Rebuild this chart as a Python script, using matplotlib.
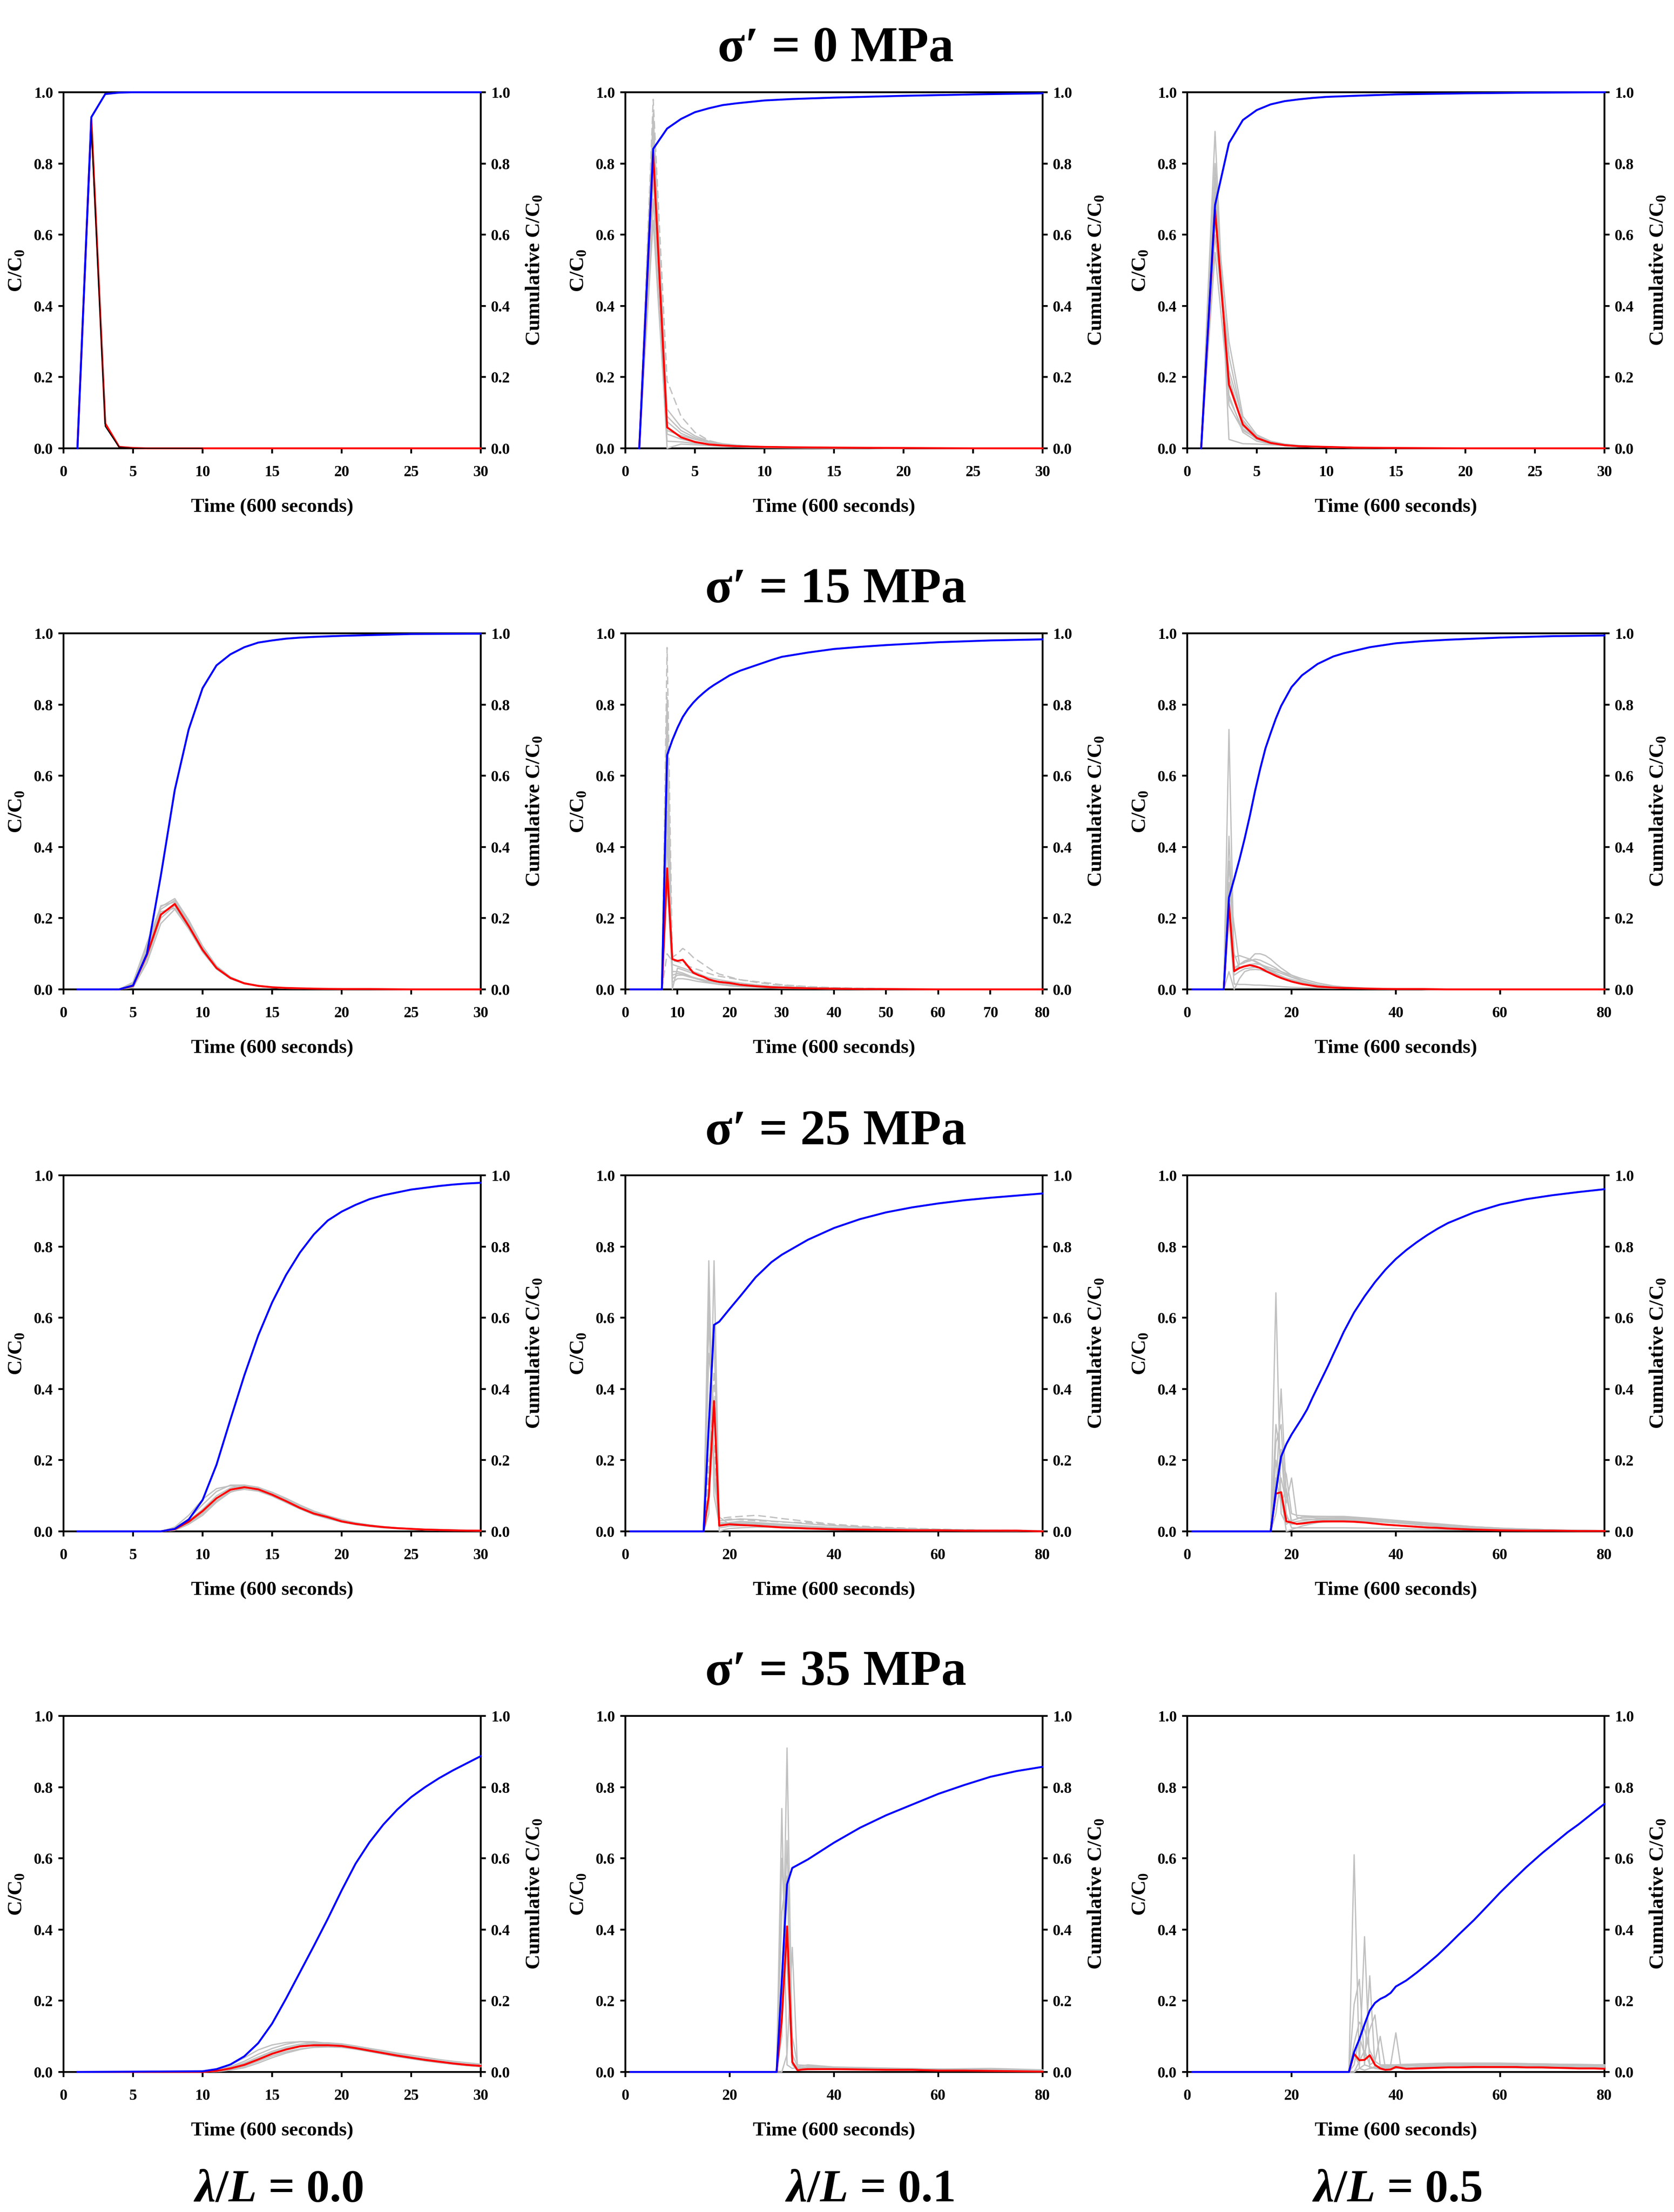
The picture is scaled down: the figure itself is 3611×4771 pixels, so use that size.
import matplotlib
matplotlib.use("Agg")
import matplotlib.pyplot as plt

plt.rcParams['font.family'] = ['Liberation Serif', 'DejaVu Serif']
plt.rcParams['font.weight'] = 'bold'
plt.rcParams['mathtext.fontset'] = 'custom'
plt.rcParams['mathtext.rm'] = 'Liberation Serif:bold'
plt.rcParams['mathtext.bf'] = 'Liberation Serif:bold'
plt.rcParams['mathtext.it'] = 'Liberation Serif:bold:italic'

# ---------------- text ----------------
row_titles = ["σ′ = 0 MPa", "σ′ = 15 MPa", "σ′ = 25 MPa", "σ′ = 35 MPa"]
col_labels = ["0.0", "0.1", "0.5"]
ytick_vals = [0.0, 0.2, 0.4, 0.6, 0.8, 1.0]
ytick_labels = ["0.0", "0.2", "0.4", "0.6", "0.8", "1.0"]
xlabel_text = "Time (600 seconds)"
ylabel_left = "C/C$_0$"
ylabel_right = "Cumulative C/C$_0$"

# ---------------- row 1 (sigma' = 0 MPa) ----------------
t_row1 = [1, 2, 3, 4, 5, 6, 7, 8, 9, 10, 12, 15, 20, 25, 30]

cum_11 = [0, 0.93, 0.995, 0.999, 1.0, 1.0, 1.0, 1.0, 1.0, 1.0, 1.0, 1.0, 1.0, 1.0, 1.0]
mean_11 = [0, 0.925, 0.07, 0.004, 0.001, 0, 0, 0, 0, 0, 0, 0, 0, 0, 0]
tg_11 = [1, 2, 3, 4, 5, 6, 8, 10]
black_11 = [0, 0.9, 0.062, 0.003, 0, 0, 0, 0]

cum_12 = [0, 0.841, 0.898, 0.925, 0.944, 0.955, 0.964, 0.969, 0.973, 0.977, 0.981, 0.985, 0.99, 0.994, 0.997]
mean_12 = [0, 0.83, 0.059, 0.031, 0.018, 0.011, 0.008, 0.006, 0.005, 0.004, 0.003, 0.002, 0.001, 0.0, 0.0]
tg_12 = [1, 2, 3, 4, 5, 6, 7, 8, 9, 10, 12, 15, 20]
real_12 = [
    [0, 0.98, 0.19, 0.09, 0.045, 0.022, 0.012, 0.007, 0.004, 0.003, 0.002, 0.001, 0],
    [0, 0.9, 0.05, 0.036, 0.025, 0.016, 0.011, 0.008, 0.006, 0.004, 0.003, 0.001, 0],
    [0, 0.8, 0.04, 0.026, 0.017, 0.011, 0.008, 0.006, 0.004, 0.003, 0.002, 0.001, 0],
    [0, 0.7, 0.0, 0.012, 0.01, 0.008, 0.006, 0.004, 0.003, 0.002, 0.001, 0, 0],
    [0, 0.86, 0.075, 0.042, 0.026, 0.016, 0.01, 0.007, 0.005, 0.004, 0.002, 0.001, 0],
    [0, 0.76, 0.09, 0.05, 0.03, 0.018, 0.012, 0.008, 0.006, 0.004, 0.003, 0.001, 0],
    [0, 0.64, 0.02, 0.018, 0.014, 0.01, 0.007, 0.005, 0.004, 0.003, 0.002, 0.001, 0],
    [0, 0.94, 0.11, 0.06, 0.035, 0.02, 0.013, 0.009, 0.006, 0.004, 0.003, 0.001, 0],
]
dashed_12 = [0]

cum_13 = [0, 0.683, 0.857, 0.922, 0.950, 0.966, 0.975, 0.98, 0.984, 0.987, 0.99, 0.994, 0.997, 0.999, 1.0]
mean_13 = [0, 0.67, 0.179, 0.067, 0.029, 0.015, 0.009, 0.006, 0.005, 0.004, 0.002, 0.001, 0.0, 0.0, 0.0]
tg_13 = [1, 2, 3, 4, 5, 6, 7, 8, 10, 12, 15]
real_13 = [
    [0, 0.89, 0.025, 0.013, 0.012, 0.01, 0.008, 0.006, 0.003, 0.002, 0.001],
    [0, 0.76, 0.12, 0.05, 0.028, 0.016, 0.01, 0.007, 0.004, 0.002, 0.001],
    [0, 0.7, 0.3, 0.09, 0.038, 0.02, 0.012, 0.008, 0.004, 0.002, 0.001],
    [0, 0.6, 0.22, 0.08, 0.032, 0.017, 0.01, 0.007, 0.004, 0.002, 0.001],
    [0, 0.55, 0.15, 0.045, 0.02, 0.012, 0.008, 0.005, 0.003, 0.002, 0.001],
    [0, 0.64, 0.26, 0.075, 0.035, 0.018, 0.011, 0.007, 0.004, 0.002, 0.001],
    [0, 0.72, 0.2, 0.062, 0.027, 0.014, 0.009, 0.006, 0.003, 0.002, 0.001],
    [0, 0.8, 0.14, 0.055, 0.025, 0.013, 0.008, 0.005, 0.003, 0.001, 0.0],
]

# ---------------- row 2 (sigma' = 15 MPa) ----------------
t_21 = [1, 2, 3, 4, 5, 6, 7, 8, 9, 10, 11, 12, 13, 14, 15, 16, 17, 18, 20, 22, 25, 30]
cum_21 = [0, 0, 0, 0, 0.011, 0.10, 0.32, 0.56, 0.73, 0.846, 0.91, 0.941, 0.961, 0.974, 0.98,
          0.985, 0.988, 0.99, 0.993, 0.995, 0.998, 0.999]
mean_21 = [0, 0, 0, 0, 0.01, 0.097, 0.21, 0.24, 0.178, 0.111, 0.06, 0.032, 0.017, 0.01, 0.006,
           0.004, 0.003, 0.002, 0.001, 0.001, 0.0, 0.0]
tg_21 = [4, 5, 6, 7, 8, 9, 10, 11, 12, 13, 14, 15, 16, 18, 20]
real_21 = [
    [0, 0.02, 0.13, 0.232, 0.255, 0.195, 0.122, 0.066, 0.035, 0.018, 0.01, 0.006, 0.004, 0.002, 0.001],
    [0, 0.005, 0.075, 0.185, 0.225, 0.17, 0.105, 0.057, 0.03, 0.016, 0.009, 0.005, 0.003, 0.002, 0.001],
    [0, 0.015, 0.11, 0.225, 0.25, 0.19, 0.116, 0.062, 0.034, 0.018, 0.01, 0.006, 0.004, 0.002, 0.001],
    [0, 0.008, 0.085, 0.2, 0.235, 0.18, 0.108, 0.058, 0.031, 0.016, 0.009, 0.005, 0.003, 0.002, 0.001],
    [0, 0.012, 0.1, 0.218, 0.228, 0.175, 0.112, 0.061, 0.033, 0.017, 0.01, 0.006, 0.004, 0.002, 0.001],
    [0, 0.018, 0.12, 0.235, 0.245, 0.185, 0.118, 0.064, 0.034, 0.018, 0.01, 0.006, 0.004, 0.002, 0.001],
]

t_22 = [1, 7, 8, 9, 10, 11, 12, 13, 14, 15, 16, 17, 18, 20, 22, 25, 28, 30, 35, 40, 45, 50, 60, 70, 80]
cum_22 = [0, 0, 0.658, 0.70, 0.735, 0.765, 0.787, 0.805, 0.82, 0.833, 0.845, 0.855, 0.864, 0.882,
          0.895, 0.91, 0.925, 0.934, 0.946, 0.956, 0.962, 0.967, 0.975, 0.98, 0.983]
mean_22 = [0, 0, 0.34, 0.085, 0.08, 0.083, 0.065, 0.047, 0.04, 0.035, 0.028, 0.024, 0.021, 0.018,
           0.013, 0.009, 0.006, 0.005, 0.003, 0.002, 0.001, 0.001, 0.0, 0.0, 0.0]
tg_22 = [7, 8, 9, 10, 11, 12, 13, 14, 15, 16, 17, 18, 20, 22, 25, 28, 30, 35, 40, 50]
real_22 = [
    [0, 0.96, 0.09, 0.1, 0.115, 0.105, 0.09, 0.08, 0.07, 0.06, 0.05, 0.043, 0.035, 0.027, 0.02, 0.014, 0.012, 0.007, 0.004, 0.002],
    [0, 0.75, 0.0, 0.06, 0.055, 0.05, 0.045, 0.04, 0.035, 0.03, 0.025, 0.022, 0.017, 0.013, 0.01, 0.007, 0.006, 0.004, 0.002, 0.001],
    [0, 0.6, 0.05, 0.05, 0.046, 0.04, 0.033, 0.028, 0.024, 0.02, 0.017, 0.015, 0.012, 0.01, 0.008, 0.006, 0.005, 0.003, 0.002, 0.001],
    [0, 0.5, 0.03, 0.04, 0.04, 0.036, 0.032, 0.028, 0.024, 0.02, 0.017, 0.014, 0.01, 0.008, 0.006, 0.004, 0.003, 0.002, 0.001, 0.0],
    [0, 0.42, 0.07, 0.065, 0.06, 0.055, 0.05, 0.045, 0.038, 0.033, 0.03, 0.027, 0.022, 0.018, 0.013, 0.009, 0.008, 0.005, 0.003, 0.001],
    [0, 0.1, 0.08, 0.078, 0.072, 0.066, 0.06, 0.055, 0.05, 0.045, 0.04, 0.037, 0.032, 0.027, 0.022, 0.017, 0.013, 0.008, 0.005, 0.002],
    [0, 0.82, 0.02, 0.03, 0.03, 0.028, 0.025, 0.022, 0.02, 0.018, 0.016, 0.014, 0.011, 0.009, 0.007, 0.005, 0.004, 0.003, 0.002, 0.001],
    [0, 0.3, 0.04, 0.045, 0.042, 0.038, 0.034, 0.03, 0.027, 0.024, 0.021, 0.019, 0.015, 0.012, 0.009, 0.007, 0.006, 0.004, 0.002, 0.001],
]
dashed_22 = [0, 5]

t_23 = [1, 7, 8, 9, 10, 11, 12, 13, 14, 15, 16, 17, 18, 20, 22, 25, 28, 30, 35, 40, 45, 50, 60, 70, 80]
cum_23 = [0, 0, 0.258, 0.31, 0.364, 0.423, 0.487, 0.557, 0.62, 0.677, 0.72, 0.761, 0.796, 0.849,
          0.882, 0.914, 0.935, 0.944, 0.961, 0.972, 0.978, 0.982, 0.988, 0.992, 0.994]
mean_23 = [0, 0, 0.24, 0.051, 0.06, 0.065, 0.068, 0.065, 0.06, 0.052, 0.045, 0.038, 0.032, 0.022,
           0.015, 0.008, 0.005, 0.004, 0.002, 0.001, 0.001, 0.0, 0.0, 0.0, 0.0]
tg_23 = [7, 8, 9, 10, 11, 12, 13, 14, 15, 16, 17, 18, 20, 22, 25, 28, 30, 35, 40, 50]
real_23 = [
    [0, 0.73, 0.05, 0.07, 0.08, 0.085, 0.08, 0.072, 0.063, 0.054, 0.045, 0.038, 0.025, 0.017, 0.01, 0.006, 0.004, 0.002, 0.001, 0],
    [0, 0.43, 0.09, 0.095, 0.09, 0.085, 0.078, 0.07, 0.06, 0.05, 0.042, 0.035, 0.022, 0.015, 0.009, 0.005, 0.004, 0.002, 0.001, 0],
    [0, 0.3, 0.18, 0.07, 0.075, 0.085, 0.1, 0.1, 0.095, 0.085, 0.072, 0.06, 0.04, 0.025, 0.013, 0.007, 0.005, 0.002, 0.001, 0],
    [0, 0.2, 0.015, 0.014, 0.014, 0.013, 0.012, 0.012, 0.011, 0.01, 0.009, 0.008, 0.006, 0.005, 0.004, 0.003, 0.003, 0.002, 0.001, 0],
    [0, 0.28, 0.04, 0.05, 0.058, 0.06, 0.062, 0.06, 0.057, 0.055, 0.05, 0.045, 0.034, 0.024, 0.013, 0.007, 0.005, 0.002, 0.001, 0],
    [0, 0.05, 0.0, 0.03, 0.05, 0.055, 0.056, 0.055, 0.05, 0.045, 0.04, 0.035, 0.028, 0.02, 0.012, 0.007, 0.005, 0.002, 0.001, 0],
    [0, 0.22, 0.06, 0.07, 0.076, 0.08, 0.085, 0.082, 0.075, 0.068, 0.06, 0.05, 0.035, 0.024, 0.012, 0.006, 0.004, 0.002, 0.001, 0],
    [0, 0.36, 0.1, 0.06, 0.065, 0.07, 0.072, 0.07, 0.065, 0.06, 0.055, 0.05, 0.04, 0.03, 0.018, 0.01, 0.007, 0.003, 0.001, 0],
]

# ---------------- row 3 (sigma' = 25 MPa) ----------------
t_31 = [1, 7, 8, 9, 10, 11, 12, 13, 14, 15, 16, 17, 18, 19, 20, 21, 22, 23, 24, 25, 26, 27, 28, 29, 30]
cum_31 = [0, 0, 0.007, 0.033, 0.088, 0.187, 0.314, 0.438, 0.55, 0.643, 0.72, 0.783, 0.834, 0.873,
          0.898, 0.917, 0.933, 0.944, 0.952, 0.96, 0.965, 0.97, 0.974, 0.977, 0.979]
mean_31 = [0, 0, 0.006, 0.027, 0.057, 0.093, 0.117, 0.124, 0.118, 0.103, 0.085, 0.066, 0.05, 0.04,
           0.028, 0.021, 0.016, 0.012, 0.009, 0.007, 0.005, 0.004, 0.003, 0.002, 0.002]
tg_31 = [7, 8, 9, 10, 11, 12, 13, 14, 15, 16, 17, 18, 19, 20, 21, 22, 23, 24, 25, 26, 27, 28, 29, 30]
real_31 = [
    [0, 0.01, 0.035, 0.075, 0.112, 0.13, 0.13, 0.12, 0.103, 0.084, 0.065, 0.05, 0.038, 0.028, 0.02, 0.015, 0.011, 0.008, 0.006, 0.005, 0.004, 0.003, 0.002, 0.002],
    [0, 0.003, 0.02, 0.045, 0.082, 0.11, 0.122, 0.12, 0.108, 0.09, 0.072, 0.055, 0.043, 0.032, 0.024, 0.018, 0.013, 0.01, 0.008, 0.006, 0.005, 0.004, 0.003, 0.002],
    [0, 0.008, 0.03, 0.062, 0.1, 0.122, 0.13, 0.124, 0.108, 0.09, 0.07, 0.054, 0.042, 0.03, 0.022, 0.017, 0.012, 0.009, 0.007, 0.005, 0.004, 0.003, 0.002, 0.002],
    [0, 0.004, 0.022, 0.05, 0.086, 0.112, 0.118, 0.113, 0.099, 0.081, 0.063, 0.047, 0.036, 0.026, 0.019, 0.014, 0.01, 0.008, 0.006, 0.004, 0.003, 0.003, 0.002, 0.001],
    [0, 0.012, 0.045, 0.09, 0.12, 0.128, 0.125, 0.115, 0.1, 0.082, 0.064, 0.049, 0.037, 0.027, 0.02, 0.015, 0.011, 0.008, 0.006, 0.004, 0.003, 0.003, 0.002, 0.001],
    [0, 0.006, 0.025, 0.055, 0.092, 0.118, 0.127, 0.123, 0.11, 0.093, 0.074, 0.057, 0.044, 0.033, 0.024, 0.018, 0.013, 0.01, 0.008, 0.006, 0.005, 0.004, 0.003, 0.002],
]

t_32 = [1, 15, 16, 17, 18, 19, 20, 22, 25, 28, 30, 35, 40, 45, 50, 55, 60, 65, 70, 75, 80]
cum_32 = [0, 0, 0.3, 0.58, 0.589, 0.607, 0.625, 0.66, 0.714, 0.756, 0.777, 0.819, 0.852, 0.877,
          0.896, 0.91, 0.921, 0.93, 0.937, 0.943, 0.949]
mean_32 = [0, 0, 0.1, 0.366, 0.016, 0.018, 0.02, 0.018, 0.016, 0.013, 0.011, 0.008, 0.006, 0.005,
           0.004, 0.003, 0.003, 0.002, 0.002, 0.002, 0.0]
tg_32 = [15, 16, 17, 18, 19, 20, 22, 25, 28, 30, 35, 40, 45, 50, 60, 70, 80]
real_32 = [
    [0, 0.76, 0.1, 0.02, 0.022, 0.025, 0.028, 0.025, 0.022, 0.02, 0.015, 0.011, 0.008, 0.006, 0.003, 0.002, 0.001],
    [0, 0.05, 0.76, 0.03, 0.031, 0.032, 0.035, 0.033, 0.029, 0.027, 0.021, 0.016, 0.012, 0.009, 0.005, 0.003, 0.002],
    [0, 0.6, 0.2, 0.01, 0.012, 0.015, 0.016, 0.017, 0.015, 0.014, 0.011, 0.008, 0.006, 0.005, 0.003, 0.002, 0.001],
    [0, 0.3, 0.55, 0.04, 0.03, 0.02, 0.021, 0.02, 0.018, 0.016, 0.013, 0.01, 0.008, 0.006, 0.004, 0.002, 0.001],
    [0, 0.15, 0.45, 0.035, 0.038, 0.04, 0.042, 0.045, 0.04, 0.036, 0.028, 0.02, 0.015, 0.011, 0.006, 0.003, 0.002],
    [0, 0.5, 0.35, 0.0, 0.005, 0.008, 0.01, 0.012, 0.012, 0.011, 0.009, 0.007, 0.005, 0.004, 0.002, 0.001, 0.001],
    [0, 0.2, 0.25, 0.03, 0.032, 0.035, 0.033, 0.03, 0.028, 0.026, 0.025, 0.018, 0.013, 0.01, 0.006, 0.003, 0.002],
    [0, 0.68, 0.15, 0.025, 0.024, 0.023, 0.024, 0.022, 0.019, 0.017, 0.013, 0.01, 0.007, 0.005, 0.003, 0.002, 0.001],
]
dashed_32 = [4, 6]

t_33 = [1, 16, 17, 18, 19, 20, 21, 22, 23, 24, 25, 26, 27, 28, 29, 30, 32, 34, 36, 38, 40, 42, 44,
        46, 48, 50, 55, 60, 65, 70, 75, 80]
cum_33 = [0, 0, 0.113, 0.21, 0.245, 0.272, 0.295, 0.318, 0.343, 0.375, 0.405, 0.435, 0.465, 0.497,
          0.528, 0.56, 0.615, 0.66, 0.70, 0.735, 0.765, 0.79, 0.812, 0.832, 0.85, 0.866, 0.896,
          0.918, 0.933, 0.944, 0.953, 0.961]
mean_33 = [0, 0, 0.106, 0.11, 0.028, 0.025, 0.021, 0.022, 0.024, 0.026, 0.027, 0.028, 0.028, 0.028,
           0.028, 0.028, 0.027, 0.025, 0.022, 0.019, 0.017, 0.015, 0.013, 0.011, 0.01, 0.008, 0.005,
           0.003, 0.002, 0.002, 0.001, 0.001]
tg_33 = [16, 17, 18, 19, 20, 21, 22, 25, 30, 35, 40, 45, 50, 55, 60, 70, 80]
real_33 = [
    [0, 0.67, 0.05, 0.02, 0.03, 0.035, 0.04, 0.042, 0.04, 0.033, 0.025, 0.018, 0.012, 0.008, 0.005, 0.002, 0.001],
    [0, 0.1, 0.4, 0.1, 0.03, 0.035, 0.04, 0.038, 0.036, 0.03, 0.024, 0.018, 0.013, 0.009, 0.006, 0.003, 0.001],
    [0, 0.3, 0.2, 0.16, 0.05, 0.045, 0.044, 0.042, 0.042, 0.037, 0.031, 0.025, 0.019, 0.013, 0.009, 0.004, 0.002],
    [0, 0.05, 0.15, 0.08, 0.15, 0.04, 0.035, 0.033, 0.034, 0.031, 0.027, 0.022, 0.017, 0.012, 0.008, 0.004, 0.002],
    [0, 0.2, 0.1, 0.0, 0.005, 0.01, 0.015, 0.025, 0.03, 0.028, 0.024, 0.018, 0.013, 0.009, 0.006, 0.003, 0.001],
    [0, 0.12, 0.23, 0.05, 0.01, 0.01, 0.01, 0.01, 0.01, 0.009, 0.008, 0.006, 0.005, 0.004, 0.003, 0.002, 0.001],
    [0, 0.15, 0.08, 0.12, 0.02, 0.022, 0.025, 0.03, 0.032, 0.03, 0.025, 0.02, 0.015, 0.01, 0.007, 0.003, 0.001],
    [0, 0.25, 0.3, 0.04, 0.025, 0.028, 0.03, 0.035, 0.038, 0.035, 0.03, 0.024, 0.018, 0.013, 0.009, 0.004, 0.002],
]

# ---------------- row 4 (sigma' = 35 MPa) ----------------
t_41 = [1, 10, 11, 12, 13, 14, 15, 16, 17, 18, 19, 20, 21, 22, 23, 24, 25, 26, 27, 28, 29, 30]
cum_41 = [0, 0.002, 0.008, 0.021, 0.044, 0.081, 0.136, 0.206, 0.28, 0.354, 0.43, 0.51, 0.585, 0.645,
          0.695, 0.737, 0.772, 0.8, 0.825, 0.847, 0.867, 0.887]
mean_41 = [0, 0, 0.003, 0.01, 0.02, 0.035, 0.051, 0.063, 0.072, 0.075, 0.075, 0.073, 0.067, 0.06,
           0.053, 0.046, 0.04, 0.034, 0.029, 0.024, 0.02, 0.017]
tg_41 = [10, 11, 12, 13, 14, 15, 16, 17, 18, 19, 20, 21, 22, 23, 24, 25, 26, 27, 28, 29, 30]
real_41 = [
    [0, 0.005, 0.015, 0.03, 0.05, 0.066, 0.078, 0.085, 0.085, 0.08, 0.075, 0.068, 0.06, 0.052, 0.045, 0.038, 0.032, 0.027, 0.022, 0.018, 0.015],
    [0, 0.001, 0.005, 0.012, 0.025, 0.04, 0.053, 0.063, 0.07, 0.074, 0.075, 0.072, 0.066, 0.06, 0.053, 0.047, 0.041, 0.035, 0.03, 0.026, 0.022],
    [0, 0.004, 0.012, 0.025, 0.042, 0.058, 0.07, 0.078, 0.082, 0.082, 0.079, 0.073, 0.066, 0.058, 0.05, 0.043, 0.037, 0.031, 0.026, 0.022, 0.019],
    [0, 0.002, 0.007, 0.016, 0.03, 0.045, 0.057, 0.065, 0.069, 0.07, 0.069, 0.064, 0.058, 0.051, 0.045, 0.039, 0.033, 0.028, 0.024, 0.02, 0.016],
    [0, 0.003, 0.01, 0.022, 0.038, 0.054, 0.066, 0.074, 0.078, 0.078, 0.076, 0.07, 0.063, 0.056, 0.049, 0.042, 0.036, 0.03, 0.025, 0.021, 0.018],
    [0, 0.006, 0.02, 0.04, 0.062, 0.076, 0.083, 0.085, 0.082, 0.077, 0.071, 0.064, 0.057, 0.05, 0.043, 0.037, 0.031, 0.026, 0.022, 0.018, 0.015],
]

t_42 = [1, 29, 30, 31, 32, 33, 34, 35, 40, 45, 50, 55, 60, 65, 70, 75, 80]
cum_42 = [0, 0, 0.26, 0.527, 0.573, 0.581, 0.589, 0.597, 0.644, 0.686, 0.721, 0.751, 0.781, 0.806,
          0.829, 0.845, 0.857]
mean_42 = [0, 0, 0.15, 0.409, 0.028, 0.005, 0.007, 0.008, 0.008, 0.007, 0.006, 0.006, 0.004, 0.004,
           0.003, 0.002, 0.001]
tg_42 = [29, 30, 31, 32, 33, 35, 40, 50, 60, 70, 80]
real_42 = [
    [0, 0.74, 0.02, 0.01, 0.012, 0.015, 0.012, 0.01, 0.008, 0.006, 0.005],
    [0, 0.1, 0.91, 0.05, 0.015, 0.02, 0.014, 0.011, 0.008, 0.01, 0.006],
    [0, 0.0, 0.05, 0.35, 0.01, 0.012, 0.01, 0.009, 0.007, 0.005, 0.004],
    [0, 0.6, 0.3, 0.02, 0.005, 0.006, 0.008, 0.007, 0.006, 0.005, 0.003],
    [0, 0.45, 0.55, 0.03, 0.01, 0.012, 0.011, 0.009, 0.007, 0.005, 0.004],
    [0, 0.2, 0.65, 0.1, 0.02, 0.018, 0.013, 0.01, 0.008, 0.006, 0.004],
]

t_43 = [1, 31, 32, 33, 34, 35, 36, 37, 38, 39, 40, 42, 44, 46, 48, 50, 52, 55, 58, 60, 63, 65, 68,
        70, 73, 75, 78, 80]
cum_43 = [0, 0, 0.056, 0.092, 0.134, 0.173, 0.194, 0.205, 0.212, 0.222, 0.24, 0.257, 0.279, 0.303,
          0.328, 0.356, 0.385, 0.427, 0.473, 0.504, 0.547, 0.575, 0.614, 0.638, 0.674, 0.695, 0.73, 0.753]
mean_43 = [0, 0, 0.051, 0.033, 0.034, 0.047, 0.02, 0.01, 0.006, 0.007, 0.014, 0.009, 0.01, 0.011,
           0.012, 0.013, 0.013, 0.014, 0.014, 0.014, 0.014, 0.013, 0.013, 0.012, 0.011, 0.01, 0.01, 0.009]
tg_43 = [31, 32, 33, 34, 35, 36, 37, 38, 39, 40, 41, 45, 50, 60, 70, 80]
real_43 = [
    [0, 0.61, 0.01, 0.005, 0.01, 0.012, 0.013, 0.014, 0.014, 0.015, 0.016, 0.018, 0.02, 0.022, 0.02, 0.018],
    [0, 0.05, 0.02, 0.38, 0.01, 0.015, 0.016, 0.016, 0.017, 0.018, 0.018, 0.019, 0.02, 0.02, 0.018, 0.015],
    [0, 0.19, 0.26, 0.02, 0.27, 0.01, 0.01, 0.011, 0.011, 0.012, 0.012, 0.013, 0.015, 0.016, 0.015, 0.012],
    [0, 0.02, 0.1, 0.05, 0.12, 0.16, 0.02, 0.015, 0.016, 0.018, 0.019, 0.02, 0.022, 0.024, 0.022, 0.02],
    [0, 0.0, 0.03, 0.06, 0.02, 0.03, 0.1, 0.01, 0.01, 0.01, 0.011, 0.011, 0.012, 0.012, 0.011, 0.01],
    [0, 0.0, 0.01, 0.02, 0.015, 0.01, 0.008, 0.005, 0.02, 0.11, 0.01, 0.015, 0.018, 0.02, 0.02, 0.017],
    [0, 0.08, 0.14, 0.12, 0.06, 0.03, 0.02, 0.02, 0.02, 0.02, 0.021, 0.023, 0.025, 0.025, 0.022, 0.02],
]

# ---------------- panel table (built from the arrays above) ----------------
panels = [
    (0, 0, t_row1, cum_11, mean_11, tg_11, [black_11], [], 30, 5),
    (0, 1, t_row1, cum_12, mean_12, tg_12, real_12, dashed_12, 30, 5),
    (0, 2, t_row1, cum_13, mean_13, tg_13, real_13, [], 30, 5),
    (1, 0, t_21, cum_21, mean_21, tg_21, real_21, [], 30, 5),
    (1, 1, t_22, cum_22, mean_22, tg_22, real_22, dashed_22, 80, 10),
    (1, 2, t_23, cum_23, mean_23, tg_23, real_23, [], 80, 20),
    (2, 0, t_31, cum_31, mean_31, tg_31, real_31, [], 30, 5),
    (2, 1, t_32, cum_32, mean_32, tg_32, real_32, dashed_32, 80, 20),
    (2, 2, t_33, cum_33, mean_33, tg_33, real_33, [], 80, 20),
    (3, 0, t_41, cum_41, mean_41, tg_41, real_41, [], 30, 5),
    (3, 1, t_42, cum_42, mean_42, tg_42, real_42, [], 80, 20),
    (3, 2, t_43, cum_43, mean_43, tg_43, real_43, [], 80, 20),
]

# ---------------- layout ----------------
W, H = 3612, 4771
fig = plt.figure(figsize=(W / 100, H / 100), dpi=100)
col_left = [137, 1349, 2561]
row_top = [199, 1366, 2535, 3701]
AW, AH = 900, 768
GRAY = '#c0c0c0'
SPW = 2.8
LW = 3.0

for (r, c, t, cum, mean, tg, reals, dashed, xmax, xstep) in panels:
    ax = fig.add_axes([col_left[c] / W, 1 - (row_top[r] + AH) / H, AW / W, AH / H])
    ax.set_xlim(0, xmax)
    ax.set_ylim(0, 1)
    black_line = (r == 0 and c == 0)
    if not black_line:
        for i, g in enumerate(reals):
            ls = (0, (6, 3)) if i in dashed else '-'
            ax.plot(tg, g, color=GRAY, lw=2.0, ls=ls, zorder=3, clip_on=False)
    ax.plot(t, mean, color='#ff0000', lw=LW, zorder=4, clip_on=False)
    if black_line:
        for g in reals:
            ax.plot(tg, g, color='black', lw=1.6, zorder=4.5, clip_on=False)
    ax.plot(t, cum, color='#0000ff', lw=LW, zorder=5, clip_on=False)

    ax.set_xticks(list(range(0, xmax + 1, xstep)))
    ax.set_yticks(ytick_vals)
    ax.set_yticklabels(ytick_labels)
    ax.tick_params(axis='both', direction='out', length=8, width=SPW, labelsize=24)
    ax.tick_params(axis='x', pad=18)
    ax.tick_params(axis='y', pad=8)
    for s in ax.spines.values():
        s.set_linewidth(SPW)
    ax.set_xlabel(xlabel_text, fontsize=31, fontweight='bold')
    ax.xaxis.set_label_coords(0.5, -0.165)
    ax.xaxis.label.set_va('center')
    ax.set_ylabel(ylabel_left, fontsize=32, fontweight='bold')
    ax.yaxis.set_label_coords(-0.112, 0.5)
    ax.yaxis.label.set_va('center')
    ax.set_facecolor('none')

    ax2 = ax.twinx()
    ax2.set_ylim(0, 1)
    ax2.set_yticks(ytick_vals)
    ax2.set_yticklabels(ytick_labels)
    ax2.tick_params(axis='y', direction='out', length=8, width=SPW, labelsize=24, pad=8)
    for side in ['top', 'bottom', 'left']:
        ax2.spines[side].set_visible(False)
    ax2.spines['right'].set_linewidth(SPW)
    ax2.set_ylabel(ylabel_right, fontsize=32, fontweight='bold', rotation=90)
    ax2.yaxis.set_label_coords(1.128, 0.5)
    ax2.yaxis.label.set_va('center')
    ax2.set_zorder(ax.get_zorder() - 1)

# row titles
for r, title in enumerate(row_titles):
    fig.text(1803 / W, 1 - (row_top[r] - 67) / H, title, ha='center', va='baseline',
             fontsize=78, fontweight='bold')

# column labels at the bottom
col_centers = [600, 1876, 3013]
for c, lab in enumerate(col_labels):
    fig.text(col_centers[c] / W, 1 - 4748 / H, r"$\mathit{\lambda/L}$ = " + lab,
             ha='center', va='baseline', fontsize=72, fontweight='bold')

fig.savefig('out.png', dpi=100, facecolor='white')
